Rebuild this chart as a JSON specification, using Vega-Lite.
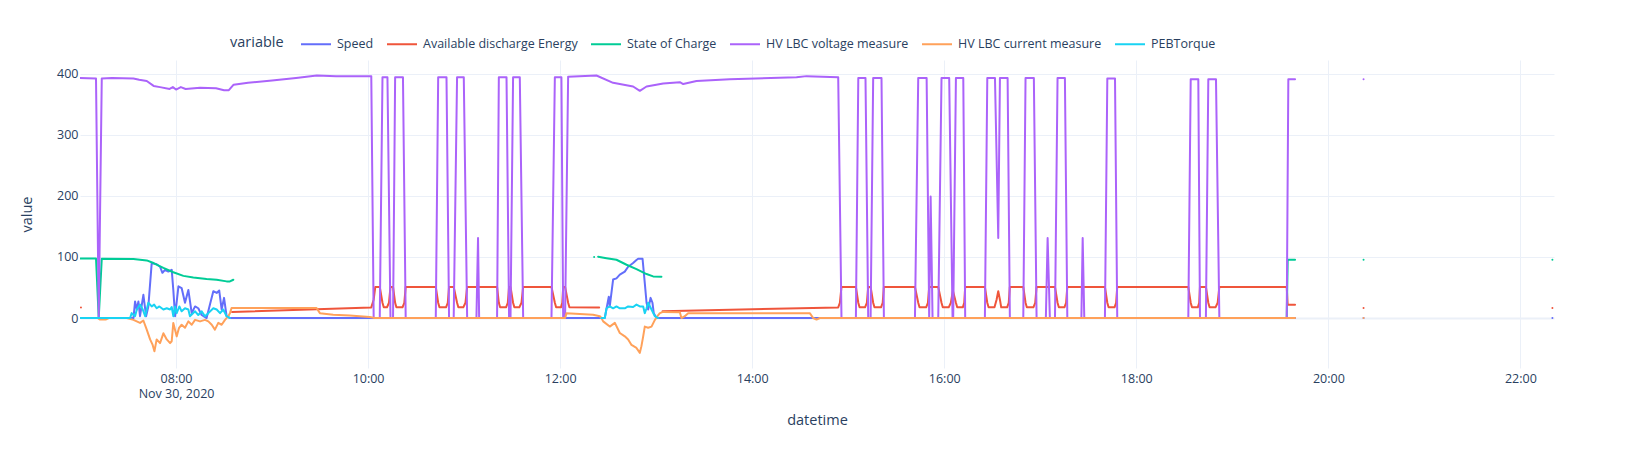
{
"$schema": "https://vega.github.io/schema/vega-lite/v6.json",
"width": 1474, "height": 308,
"autosize": {"type": "none"},
"padding": {"left": 80, "top": 60, "right": 79, "bottom": 82},
"background": "white",
"config": {"view": {"stroke": null}, "font": "Open Sans"},
"datasets": {
"speed": [
{"t":"07:00:00","v":0},{"t":"07:33:24","v":0},{"t":"07:34:24","v":27},{"t":"07:35:30","v":14},{"t":"07:36:30","v":27},{"t":"07:37:30","v":3},{"t":"07:39:36","v":38},{"t":"07:41:18","v":3},{"t":"07:42:42","v":19},{"t":"07:44:48","v":90},{"t":"07:47:54","v":88},{"t":"07:50:00","v":84},{"t":"07:51:30","v":74},{"t":"07:53:06","v":79},{"t":"07:55:12","v":76},{"t":"07:57:18","v":79},{"t":"07:58:18","v":46},{"t":"07:59:24","v":3},{"t":"08:01:30","v":52},{"t":"08:03:30","v":49},{"t":"08:05:36","v":25},{"t":"08:07:42","v":46},{"t":"08:09:48","v":8},{"t":"08:11:54","v":19},{"t":"08:13:54","v":16},{"t":"08:16:00","v":5},{"t":"08:19:06","v":0},{"t":"08:21:12","v":22},{"t":"08:23:18","v":44},{"t":"08:25:24","v":41},{"t":"08:27:00","v":45},{"t":"08:28:30","v":14},{"t":"08:30:00","v":33},{"t":"08:31:36","v":3},{"t":"08:33:42","v":0},
{"t":"12:27:54","v":0},{"t":"12:30:24","v":35},{"t":"12:31:00","v":19},{"t":"12:33:06","v":63},{"t":"12:35:12","v":65},{"t":"12:37:18","v":71},{"t":"12:40:24","v":76},{"t":"12:42:30","v":84},{"t":"12:45:36","v":90},{"t":"12:47:42","v":95},{"t":"12:48:45","v":97},{"t":"12:51:30","v":97},{"t":"12:52:54","v":57},{"t":"12:54:00","v":25},{"t":"12:55:00","v":14},{"t":"12:56:30","v":33},{"t":"12:57:42","v":25},{"t":"12:58:30","v":8},{"t":"13:00:12","v":0},
{"t":"19:39:12","v":0},{"t":"19:50:00","v":null},{"t":"20:22:00","v":0},{"t":"21:00:00","v":null},{"t":"22:20:00","v":0}
],
"ade": [
{"t":"07:00:36","v":17.3},{"t":"07:05:00","v":null},
{"t":"08:35:00","v":10},{"t":"10:02:00","v":17.4},{"t":"10:03:30","v":30},{"t":"10:04:30","v":51},
{"t":"10:07:18","v":51},{"t":"10:09:00","v":25},{"t":"10:09:48","v":17.5},{"t":"10:11:48","v":17.5},{"t":"10:13:03","v":25},{"t":"10:14:00","v":51},
{"t":"10:15:36","v":51},{"t":"10:16:54","v":25},{"t":"10:17:42","v":17.5},{"t":"10:21:30","v":17.5},{"t":"10:22:39","v":25},{"t":"10:23:30","v":51},
{"t":"10:42:18","v":51},{"t":"10:43:48","v":25},{"t":"10:44:36","v":17.5},{"t":"10:48:42","v":17.5},{"t":"10:49:48","v":25},{"t":"10:50:36","v":51},
{"t":"10:53:30","v":51},{"t":"10:55:36","v":25},{"t":"10:56:24","v":17.5},{"t":"10:59:30","v":17.5},{"t":"11:00:51","v":25},{"t":"11:01:54","v":51},
{"t":"11:20:36","v":51},{"t":"11:21:42","v":25},{"t":"11:22:30","v":17.5},{"t":"11:26:12","v":17.5},{"t":"11:27:18","v":25},{"t":"11:28:06","v":51},
{"t":"11:29:00","v":51},{"t":"11:30:36","v":25},{"t":"11:31:24","v":17.5},{"t":"11:34:30","v":17.5},{"t":"11:35:51","v":25},{"t":"11:36:54","v":51},
{"t":"11:54:36","v":51},{"t":"11:56:42","v":25},{"t":"11:57:30","v":17.5},{"t":"12:00:30","v":17.5},{"t":"12:01:21","v":25},{"t":"12:01:54","v":51},
{"t":"12:03:06","v":51},{"t":"12:05:00","v":25},{"t":"12:05:48","v":17.5},{"t":"12:24:24","v":17.4},{"t":"12:40:00","v":null},
{"t":"13:04:00","v":11},{"t":"14:53:45","v":17.4},{"t":"14:54:48","v":25},{"t":"14:55:48","v":51},
{"t":"15:04:48","v":51},{"t":"15:06:18","v":25},{"t":"15:07:06","v":17.5},{"t":"15:10:30","v":17.5},{"t":"15:11:39","v":25},{"t":"15:12:30","v":51},
{"t":"15:14:00","v":51},{"t":"15:15:36","v":25},{"t":"15:16:24","v":17.5},{"t":"15:20:30","v":17.5},{"t":"15:21:33","v":25},{"t":"15:22:18","v":51},
{"t":"15:41:42","v":51},{"t":"15:43:45","v":25},{"t":"15:44:33","v":17.5},{"t":"15:48:42","v":17.5},{"t":"15:49:48","v":25},{"t":"15:50:36","v":51},
{"t":"15:56:15","v":51},{"t":"15:58:18","v":25},{"t":"15:59:06","v":17.5},{"t":"16:02:48","v":17.5},{"t":"16:04:09","v":25},{"t":"16:05:24","v":45},
{"t":"16:07:18","v":25},{"t":"16:08:06","v":17.5},{"t":"16:11:36","v":17.5},{"t":"16:12:30","v":25},{"t":"16:13:06","v":51},
{"t":"16:25:24","v":51},{"t":"16:26:54","v":25},{"t":"16:27:42","v":17.5},{"t":"16:31:24","v":17.5},{"t":"16:32:42","v":30},{"t":"16:33:45","v":44},{"t":"16:34:48","v":30},{"t":"16:35:36","v":17.5},{"t":"16:39:18","v":17.5},{"t":"16:40:18","v":25},{"t":"16:41:00","v":51},
{"t":"16:49:24","v":51},{"t":"16:50:48","v":25},{"t":"16:51:36","v":17.5},{"t":"16:55:42","v":17.5},{"t":"16:56:51","v":25},{"t":"16:57:42","v":51},
{"t":"17:09:12","v":51},{"t":"17:10:48","v":25},{"t":"17:11:36","v":17.5},{"t":"17:15:06","v":17.5},{"t":"17:16:09","v":25},{"t":"17:16:54","v":51},
{"t":"17:40:24","v":51},{"t":"17:41:54","v":25},{"t":"17:42:42","v":17.5},{"t":"17:46:24","v":17.5},{"t":"17:47:24","v":25},{"t":"17:48:06","v":51},
{"t":"18:32:30","v":51},{"t":"18:34:00","v":25},{"t":"18:34:48","v":17.5},{"t":"18:38:27","v":17.5},{"t":"18:39:18","v":25},{"t":"18:39:48","v":51},
{"t":"18:43:30","v":51},{"t":"18:45:00","v":25},{"t":"18:45:48","v":17.5},{"t":"18:49:30","v":17.5},{"t":"18:50:51","v":25},{"t":"18:51:54","v":51},
{"t":"19:34:00","v":51},{"t":"19:34:36","v":21.8},{"t":"19:39:12","v":21.8},{"t":"19:50:00","v":null},{"t":"20:22:00","v":16.4},{"t":"21:00:00","v":null},{"t":"22:20:00","v":16.4}
],
"soc": [
{"t":"07:00:00","v":97.5},{"t":"07:10:00","v":97.5},{"t":"07:11:42","v":0},{"t":"07:13:36","v":97},{"t":"07:33:24","v":96.5},{"t":"07:41:42","v":94.3},{"t":"07:45:54","v":90},{"t":"07:52:06","v":82},{"t":"07:58:18","v":75},{"t":"08:04:36","v":69},{"t":"08:10:48","v":66.5},{"t":"08:19:06","v":64},{"t":"08:25:24","v":62.7},{"t":"08:31:36","v":60},{"t":"08:33:42","v":60},{"t":"08:35:48","v":62.7},{"t":"09:00:00","v":null},
{"t":"12:21:15","v":100},{"t":"12:22:00","v":null},{"t":"12:23:45","v":100.3},{"t":"12:29:00","v":98},{"t":"12:35:12","v":95.4},{"t":"12:41:30","v":87.2},{"t":"12:47:42","v":80.1},{"t":"12:54:00","v":72},{"t":"12:58:06","v":68.1},{"t":"13:03:18","v":67.6},{"t":"14:00:00","v":null},
{"t":"19:34:00","v":0},{"t":"19:34:36","v":95.4},{"t":"19:39:12","v":95.4},{"t":"19:50:00","v":null},{"t":"20:22:00","v":95.4},{"t":"21:00:00","v":null},{"t":"22:20:00","v":95.4}
],
"volt": [
{"t":"07:00:00","v":393},{"t":"07:10:00","v":392},{"t":"07:11:42","v":0},{"t":"07:13:36","v":392},{"t":"07:20:00","v":393},{"t":"07:33:24","v":392},{"t":"07:37:00","v":390},{"t":"07:41:42","v":388},{"t":"07:46:00","v":380},{"t":"07:50:00","v":378},{"t":"07:56:00","v":375},{"t":"07:58:00","v":378},{"t":"08:00:00","v":374},{"t":"08:03:00","v":378},{"t":"08:06:00","v":375},{"t":"08:15:00","v":377},{"t":"08:25:00","v":376},{"t":"08:30:00","v":373},{"t":"08:33:00","v":373},{"t":"08:36:00","v":382},{"t":"08:45:00","v":385},{"t":"09:00:00","v":389},{"t":"09:15:00","v":393},{"t":"09:28:00","v":397},{"t":"09:40:00","v":396},{"t":"10:02:00","v":396},{"t":"10:03:30","v":0},
{"t":"10:07:18","v":0},{"t":"10:09:00","v":394},{"t":"10:12:06","v":394},{"t":"10:14:00","v":0},
{"t":"10:15:36","v":0},{"t":"10:16:54","v":394},{"t":"10:21:48","v":394},{"t":"10:23:30","v":0},
{"t":"10:42:18","v":0},{"t":"10:43:48","v":394},{"t":"10:49:00","v":394},{"t":"10:50:36","v":0},
{"t":"10:53:30","v":0},{"t":"10:55:36","v":394},{"t":"10:59:48","v":394},{"t":"11:01:54","v":0},
{"t":"11:07:42","v":0},{"t":"11:08:42","v":131},{"t":"11:09:24","v":0},
{"t":"11:20:36","v":0},{"t":"11:21:42","v":394},{"t":"11:26:30","v":394},{"t":"11:28:06","v":0},
{"t":"11:29:00","v":0},{"t":"11:30:36","v":394},{"t":"11:34:48","v":394},{"t":"11:36:54","v":0},
{"t":"11:54:36","v":0},{"t":"11:56:42","v":394},{"t":"12:00:48","v":394},{"t":"12:01:54","v":0},
{"t":"12:03:06","v":0},{"t":"12:05:00","v":395},{"t":"12:22:42","v":397},{"t":"12:33:06","v":385},{"t":"12:45:36","v":379},{"t":"12:49:48","v":372},{"t":"12:54:00","v":379},{"t":"13:04:24","v":384},{"t":"13:14:48","v":386},{"t":"13:16:54","v":383},{"t":"13:25:12","v":388},{"t":"13:46:00","v":391},{"t":"14:27:42","v":394},{"t":"14:34:00","v":396},{"t":"14:53:45","v":394},{"t":"14:55:48","v":0},
{"t":"15:04:48","v":0},{"t":"15:06:18","v":393},{"t":"15:10:48","v":393},{"t":"15:12:30","v":0},
{"t":"15:14:00","v":0},{"t":"15:15:36","v":393},{"t":"15:20:48","v":393},{"t":"15:22:18","v":0},
{"t":"15:41:42","v":0},{"t":"15:43:45","v":393},{"t":"15:49:00","v":393},{"t":"15:50:36","v":0},{"t":"15:51:30","v":199},{"t":"15:52:42","v":0},
{"t":"15:56:15","v":0},{"t":"15:58:18","v":393},{"t":"16:03:06","v":393},{"t":"16:05:12","v":0},
{"t":"16:05:36","v":0},{"t":"16:07:18","v":393},{"t":"16:11:54","v":393},{"t":"16:13:06","v":0},
{"t":"16:25:24","v":0},{"t":"16:26:54","v":393},{"t":"16:31:42","v":393},{"t":"16:33:45","v":131},{"t":"16:34:48","v":393},{"t":"16:39:36","v":393},{"t":"16:41:00","v":0},
{"t":"16:49:24","v":0},{"t":"16:50:48","v":393},{"t":"16:56:00","v":393},{"t":"16:57:42","v":0},
{"t":"17:03:30","v":0},{"t":"17:04:36","v":131},{"t":"17:06:00","v":0},
{"t":"17:09:12","v":0},{"t":"17:10:48","v":393},{"t":"17:15:24","v":393},{"t":"17:16:54","v":0},
{"t":"17:25:42","v":0},{"t":"17:26:30","v":131},{"t":"17:27:30","v":0},
{"t":"17:40:24","v":0},{"t":"17:41:54","v":392},{"t":"17:46:42","v":392},{"t":"17:48:06","v":0},
{"t":"18:32:30","v":0},{"t":"18:34:00","v":391},{"t":"18:38:45","v":391},{"t":"18:39:48","v":0},
{"t":"18:43:30","v":0},{"t":"18:45:00","v":391},{"t":"18:49:48","v":391},{"t":"18:51:54","v":0},
{"t":"19:34:00","v":0},{"t":"19:35:00","v":391},{"t":"19:39:12","v":391},{"t":"19:50:00","v":null},{"t":"20:22:00","v":391}
],
"curr": [
{"t":"07:00:00","v":0},{"t":"07:11:00","v":0},{"t":"07:12:30","v":-2.5},{"t":"07:16:00","v":-2.5},{"t":"07:18:00","v":0},{"t":"07:29:12","v":0},{"t":"07:33:24","v":-3},{"t":"07:37:30","v":-8},{"t":"07:39:36","v":-4},{"t":"07:41:42","v":-19},{"t":"07:43:48","v":-35},{"t":"07:45:24","v":-44},{"t":"07:46:30","v":-54.5},{"t":"07:47:54","v":-35},{"t":"07:50:00","v":-41},{"t":"07:52:06","v":-25},{"t":"07:54:12","v":-35},{"t":"07:56:18","v":-41},{"t":"07:57:18","v":-38},{"t":"07:58:18","v":-8},{"t":"08:00:24","v":-30},{"t":"08:01:54","v":-16},{"t":"08:03:30","v":-11},{"t":"08:05:36","v":-16},{"t":"08:07:42","v":-5.5},{"t":"08:09:48","v":-11},{"t":"08:11:54","v":-3},{"t":"08:15:00","v":-5.5},{"t":"08:18:06","v":-3},{"t":"08:20:12","v":-5.5},{"t":"08:22:18","v":-11},{"t":"08:24:18","v":-19},{"t":"08:26:24","v":-8},{"t":"08:28:30","v":-11},{"t":"08:30:36","v":-3},{"t":"08:32:42","v":3},{"t":"08:33:42","v":8},{"t":"08:34:42","v":16.4},{"t":"09:27:48","v":16.4},{"t":"09:29:54","v":8},{"t":"09:38:12","v":5.5},{"t":"09:48:36","v":4},{"t":"10:01:00","v":1.6},{"t":"10:04:12","v":0},
{"t":"12:03:06","v":0},{"t":"12:04:00","v":8},{"t":"12:20:36","v":5.5},{"t":"12:24:48","v":3},{"t":"12:25:48","v":0},{"t":"12:26:54","v":-5.5},{"t":"12:31:00","v":-14},{"t":"12:34:12","v":-8},{"t":"12:37:18","v":-24.5},{"t":"12:40:24","v":-30},{"t":"12:42:30","v":-35},{"t":"12:44:36","v":-44},{"t":"12:47:42","v":-49},{"t":"12:49:48","v":-57},{"t":"12:50:48","v":-46},{"t":"12:51:54","v":-30},{"t":"12:52:54","v":-14},{"t":"12:55:00","v":-16},{"t":"12:57:06","v":-14},{"t":"12:59:12","v":-3},{"t":"13:00:48","v":3},{"t":"13:02:18","v":8},{"t":"13:04:24","v":10},{"t":"13:14:48","v":9.5},{"t":"13:15:48","v":0},{"t":"13:17:54","v":3},{"t":"13:20:00","v":8},{"t":"14:36:00","v":8},{"t":"14:38:06","v":0},{"t":"14:40:12","v":-2.5},{"t":"14:42:18","v":0},
{"t":"19:39:12","v":0},{"t":"19:50:00","v":null},{"t":"20:22:00","v":0}
],
"peb": [
{"t":"07:00:00","v":0},{"t":"07:31:18","v":0},{"t":"07:32:18","v":8},{"t":"07:34:24","v":3},{"t":"07:35:30","v":14},{"t":"07:37:30","v":22},{"t":"07:39:12","v":14},{"t":"07:40:42","v":3},{"t":"07:42:42","v":25},{"t":"07:44:48","v":19},{"t":"07:46:18","v":22},{"t":"07:47:54","v":16},{"t":"07:49:36","v":19},{"t":"07:52:06","v":14},{"t":"07:54:12","v":16},{"t":"07:56:18","v":14},{"t":"07:57:18","v":18},{"t":"07:58:18","v":3},{"t":"07:59:24","v":19},{"t":"08:00:24","v":8},{"t":"08:02:06","v":19},{"t":"08:03:30","v":11},{"t":"08:05:36","v":16},{"t":"08:07:42","v":14},{"t":"08:08:42","v":3},{"t":"08:11:54","v":11},{"t":"08:13:54","v":5},{"t":"08:16:00","v":11},{"t":"08:18:06","v":3},{"t":"08:20:12","v":8},{"t":"08:23:18","v":16},{"t":"08:25:24","v":14},{"t":"08:27:30","v":8},{"t":"08:29:30","v":14},{"t":"08:31:36","v":3},{"t":"08:33:42","v":0},{"t":"09:00:00","v":null},
{"t":"12:25:48","v":0},{"t":"12:27:54","v":0},{"t":"12:29:00","v":16},{"t":"12:31:00","v":19},{"t":"12:33:06","v":16},{"t":"12:35:12","v":19},{"t":"12:37:18","v":16},{"t":"12:40:24","v":16},{"t":"12:42:30","v":19},{"t":"12:45:36","v":18},{"t":"12:47:42","v":22},{"t":"12:49:48","v":19},{"t":"12:51:54","v":19},{"t":"12:52:54","v":8},{"t":"12:54:00","v":16},{"t":"12:55:00","v":25},{"t":"12:57:06","v":14},{"t":"12:59:12","v":3},{"t":"13:01:18","v":0}
]
},
"encoding": {
"x": {"field": "t", "type": "temporal", "title": "datetime",
"scale": {"domain": [{"year": 1900, "month": 1, "date": 1, "hours": 7}, {"year": 1900, "month": 1, "date": 1, "hours": 22, "minutes": 21}]},
"axis": {"values": [{"year": 1900, "month": 1, "date": 1, "hours": 8}, {"year": 1900, "month": 1, "date": 1, "hours": 10}, {"year": 1900, "month": 1, "date": 1, "hours": 12}, {"year": 1900, "month": 1, "date": 1, "hours": 14}, {"year": 1900, "month": 1, "date": 1, "hours": 16}, {"year": 1900, "month": 1, "date": 1, "hours": 18}, {"year": 1900, "month": 1, "date": 1, "hours": 20}, {"year": 1900, "month": 1, "date": 1, "hours": 22}],
"labelExpr": "hours(datum.value) == 8 ? ['08:00', 'Nov 30, 2020'] : timeFormat(datum.value, '%H:%M')",
"domain": false, "ticks": false, "grid": true, "gridColor": "#EBF0F8", "gridWidth": 1,
"labelColor": "#2a3f5f", "labelFontSize": 12.5, "labelFont": "Open Sans", "labelPadding": 4, "labelLineHeight": 15, "labelFlush": false, "labelOverlap": false,
"titleColor": "#2a3f5f", "titleFontSize": 14.5, "titleFont": "Open Sans", "titleFontWeight": "normal", "titlePadding": 14}},
"y": {"field": "v", "type": "quantitative", "title": "value",
"scale": {"domain": [-81.8, 422.4], "nice": false, "zero": false},
"axis": {"values": [0, 100, 200, 300, 400], "domain": false, "ticks": false, "grid": true, "gridColor": "#EBF0F8",
"gridWidth": {"condition": {"test": "datum.value === 0", "value": 2}, "value": 1},
"labelColor": "#2a3f5f", "labelFontSize": 12.5, "labelFont": "Open Sans", "labelPadding": 2,
"titleColor": "#2a3f5f", "titleFontSize": 14.5, "titleFont": "Open Sans", "titleFontWeight": "normal", "titlePadding": 22}}
},
"layer": [
{"data": {"name": "speed", "format": {"parse": {"t": "date:'%H:%M:%S'"}}},
"mark": {"type": "line", "strokeWidth": 2, "strokeCap": "round", "strokeJoin": "round", "clip": true},
"encoding": {"color": {"datum": "Speed", "type": "nominal",
"scale": {"domain": ["Speed", "Available discharge Energy", "State of Charge", "HV LBC voltage measure", "HV LBC current measure", "PEBTorque"], "range": ["#636efa", "#EF553B", "#00cc96", "#ab63fa", "#FFA15A", "#19d3f3"]},
"legend": {"orient": "none", "legendX": 150, "legendY": -32, "direction": "horizontal", "title": "variable", "titleOrient": "left", "titleFontSize": 14.5, "titleFontWeight": "normal", "titleColor": "#2a3f5f", "titleFont": "Open Sans", "titlePadding": 16,
"symbolType": "stroke", "symbolSize": 900, "symbolStrokeWidth": 2, "labelFontSize": 12.5, "labelFont": "Open Sans", "labelColor": "#2a3f5f", "labelOffset": 5, "columnPadding": 9, "padding": 0,
"encode": {"title": {"update": {"dy": {"value": 4}}}}}}}},
{"data": {"name": "ade", "format": {"parse": {"t": "date:'%H:%M:%S'"}}},
"mark": {"type": "line", "strokeWidth": 2, "strokeCap": "round", "strokeJoin": "round", "clip": true},
"encoding": {"color": {"datum": "Available discharge Energy", "type": "nominal"}}},
{"data": {"name": "soc", "format": {"parse": {"t": "date:'%H:%M:%S'"}}},
"mark": {"type": "line", "strokeWidth": 2, "strokeCap": "round", "strokeJoin": "round", "clip": true},
"encoding": {"color": {"datum": "State of Charge", "type": "nominal"}}},
{"data": {"name": "volt", "format": {"parse": {"t": "date:'%H:%M:%S'"}}},
"mark": {"type": "line", "strokeWidth": 2, "strokeCap": "round", "strokeJoin": "round", "clip": true},
"encoding": {"color": {"datum": "HV LBC voltage measure", "type": "nominal"}}},
{"data": {"name": "curr", "format": {"parse": {"t": "date:'%H:%M:%S'"}}},
"mark": {"type": "line", "strokeWidth": 2, "strokeCap": "round", "strokeJoin": "round", "clip": true},
"encoding": {"color": {"datum": "HV LBC current measure", "type": "nominal"}}},
{"data": {"name": "peb", "format": {"parse": {"t": "date:'%H:%M:%S'"}}},
"mark": {"type": "line", "strokeWidth": 2, "strokeCap": "round", "strokeJoin": "round", "clip": true},
"encoding": {"color": {"datum": "PEBTorque", "type": "nominal"}}}
]
}
